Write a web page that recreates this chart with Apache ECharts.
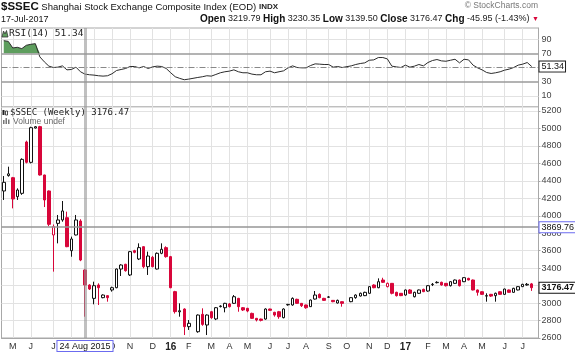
<!DOCTYPE html>
<html>
<head>
<meta charset="utf-8">
<script src="https://cdn.jsdelivr.net/npm/echarts@6/dist/echarts.min.js"></script>
<style>
  html, body { margin: 0; padding: 0; background: #fff; }
  #chart { width: 575px; height: 354px; }
</style>
</head>
<body>
<div id="chart"></div>
<script>
// weekly bars, one per Monday
const firstWeek = '2015-04-20';
const weekCount = 119;
const monthLetters = ['J', 'F', 'M', 'A', 'M', 'J', 'J', 'A', 'S', 'O', 'N', 'D'];

// [open, close, low, high]; null = exchange closed that week
const candles2015 = [
  [4284, 4383, 4181, 4455], [4460, 4480, 4448, 4562], [4436, 4192, 4085, 4445], [4219, 4295, 4181, 4314],
  [4257, 4646, 4240, 4658], [4845, 4612, 4600, 4860], [4612, 5009, 4600, 5020], [5005, 5020, 5000, 5028],
  [5021, 4467, 4460, 5030], [4467, 4181, 4100, 4470], [4284, 3902, 3880, 4290], [3780, 3875, 3360, 3900],
  [3913, 3952, 3684, 4009], [3952, 4055, 3932, 4169], [3978, 3646, 3640, 4047], [3600, 3734, 3531, 3761],
  [3780, 3952, 3775, 4009], [3940, 3493, 3480, 3960], [3379, 3207, 2844, 3390], [3207, 3161, 3150, 3215],
  [3054, 3199, 2986, 3245], [3207, 3176, 2978, 3226], [3062, 3092, 3055, 3100], [3085, 3062, 3016, 3090],
  [3150, 3176, 3131, 3188], [3176, 3390, 3170, 3395], [3390, 3436, 3310, 3445], [3444, 3371, 3360, 3450],
  [3322, 3589, 3310, 3597], [3600, 3581, 3570, 3610], [3505, 3635, 3493, 3684], [3646, 3417, 3398, 3650],
  [3417, 3539, 3322, 3589], [3524, 3417, 3410, 3540], [3390, 3570, 3385, 3580], [3570, 3616, 3560, 3684],
  [3635, 3532, 3520, 3650]
];
const candles2016 = [
  [3532, 3176, 3170, 3540], [3131, 2902, 2880, 3140], [2900, 2912, 2844, 2997], [2932, 2730, 2634, 2940],
  [2730, 2768, 2692, 2806], null, [2672, 2863, 2660, 2870], [2871, 2756, 2740, 2940],
  [2749, 2863, 2634, 2870], [2901, 2833, 2820, 2910], [2818, 2947, 2805, 2955], [2960, 2966, 2950, 2975],
  [2947, 2997, 2894, 3003], [2990, 2959, 2950, 3000], [2997, 3073, 2990, 3092], [3054, 2959, 2901, 3060],
  [2947, 2921, 2909, 2955], [2940, 2909, 2895, 2945], [2882, 2825, 2820, 2890], [2825, 2806, 2790, 2830],
  [2817, 2802, 2790, 2822], [2817, 2932, 2810, 2940], [2932, 2917, 2910, 2936], [2894, 2863, 2845, 2900],
  [2901, 2844, 2820, 2910], [2833, 2932, 2825, 2940], [2980, 2985, 2970, 2990], [2978, 3054, 2970, 3065],
  [3043, 2997, 2990, 3050], [2997, 2970, 2955, 3000], [2978, 2947, 2935, 2982], [2959, 3035, 2955, 3040],
  [3046, 3092, 3040, 3138], [3100, 3062, 3055, 3110], [3054, 3031, 3025, 3060], [3067, 3070, 3060, 3080],
  [3031, 3016, 3010, 3035], [3001, 3031, 2995, 3040], [3016, 2997, 2959, 3020], null,
  [3016, 3062, 3010, 3065], [3062, 3092, 3050, 3100], [3081, 3112, 3075, 3120], [3085, 3123, 3080, 3130],
  [3112, 3188, 3105, 3195], [3207, 3176, 3170, 3215], [3176, 3245, 3170, 3283], [3264, 3238, 3230, 3290],
  [3188, 3226, 3180, 3235], [3226, 3112, 3100, 3230], [3123, 3085, 3075, 3130], [3112, 3085, 3080, 3115]
];
const candles2017 = [
  [3092, 3150, 3085, 3155], [3150, 3112, 3105, 3160], [3073, 3123, 3065, 3130], [3112, 3150, 3105, 3155],
  [3157, 3131, 3125, 3165], [3138, 3199, 3130, 3205], [3211, 3215, 3195, 3230], [3234, 3238, 3225, 3250],
  [3238, 3207, 3200, 3245], [3226, 3199, 3190, 3230], [3199, 3245, 3190, 3250], [3226, 3264, 3220, 3270],
  [3264, 3199, 3190, 3270], [3245, 3291, 3240, 3295], [3283, 3264, 3260, 3290], [3264, 3150, 3145, 3270],
  [3150, 3123, 3085, 3155], [3130, 3100, 3095, 3135], [3080, 3085, 3016, 3112], [3100, 3080, 3070, 3105],
  [3085, 3112, 3016, 3120], [3130, 3100, 3095, 3135], [3100, 3161, 3095, 3165], [3150, 3123, 3118, 3155],
  [3123, 3169, 3118, 3175], [3150, 3188, 3145, 3192], [3188, 3215, 3185, 3220], [3207, 3215, 3200, 3230],
  [3219.79, 3176.47, 3139.50, 3230.35]
];
// up weeks that still closed below the prior week (drawn hollow red)
const hollowRedWeeks = ['2015-07-06', '2016-12-05'];

const rsi14 = [
  87.7, 86.7, 77.4, 78.4, 76.5, 81.2, 82.6, 83.5, 64.9, 57.9, 51.9, 50.0, 50.5, 52.3, 46.7, 47.2,
  50.5, 44.0, 40.7, 39.8, 39.3, 38.4, 37.9, 38.4, 41.2, 45.8, 47.2, 48.6, 51.4, 51.4, 49.5, 51.4,
  48.6, 50.9, 51.9, 51.4, 48.6, 42.6, 37.0, 34.7, 32.8, 33.7, null, 36.0, 37.0, 38.4, 37.9, 40.2,
  42.6, 44.0, 44.9, 46.7, 44.0, 42.6, 42.6, 40.7, 39.8, 39.8, 44.0, 44.9, 42.6, 44.0, 45.3, 49.5,
  52.3, 50.0, 49.5, 49.5, 52.8, 55.1, 54.7, 54.2, 54.2, 50.5, 51.4, 50.0, null, 52.3, 54.2, 55.6,
  56.5, 60.2, 60.7, 64.0, 64.0, 62.1, 51.9, 50.9, 50.0, 53.3, 50.5, 51.9, 54.2, 52.3, 57.0, 59.8,
  61.2, 59.3, 58.8, 60.2, 61.6, 56.5, 61.6, 60.7, 53.3, 49.5, 46.7, 43.0, 41.6, 42.6, 44.0, 46.3,
  47.7, 50.0, 53.3, 54.7, 57.0, 51.34
];
const rsiLevels = [10, 30, 50, 70, 90];
const rsiOverbought = 70;

const markedWeek = '2015-08-24';
const markedPrice = 3869.76;
const lastOpen = 3219.79, lastHigh = 3230.35, lastLow = 3139.50, lastClose = 3176.47;
const change = -45.95, changePct = -1.43;
const lastRsi = 51.34;

const red = '#d8063a';
const green = '#5e9e5e';
const gridColor = '#e2e2e2';
const monoFont = 'DejaVu Sans Mono';

const weeks = [];
{
  const d = new Date(firstWeek + 'T00:00:00Z');
  for (let i = 0; i < weekCount; i++) {
    weeks.push(d.toISOString().slice(0, 10));
    d.setUTCDate(d.getUTCDate() + 7);
  }
}
const isMonthStart = (idx, w) => Number(w.slice(8)) <= 7;

const candles = candles2015.concat(candles2016, candles2017);
const candleData = weeks.map((w, i) => {
  const c = candles[i];
  if (!c) return ['-', '-', '-', '-'];
  if (hollowRedWeeks.includes(w)) return { value: c, itemStyle: { color: '#fff', borderColor: red } };
  return c;
});
const rsiData = weeks.map((w, i) => (rsi14[i] == null ? '-' : rsi14[i]));
// shading only where RSI is above the overbought line
const rsiShade = rsiData.map(v => (v === '-' ? '-' : Math.max(v, rsiOverbought)));

const monthNames = ['Jan', 'Feb', 'Mar', 'Apr', 'May', 'Jun', 'Jul', 'Aug', 'Sep', 'Oct', 'Nov', 'Dec'];
const dayLabel = w => Number(w.slice(8)) + ' ' + monthNames[Number(w.slice(5, 7)) - 1] + ' ' + w.slice(0, 4);
const headerDate = '17-Jul-2017';

const valueBox = (border, bold) => ({
  show: true, position: 'end', distance: 1, color: '#111', fontSize: 9,
  fontWeight: bold ? 'bold' : 'normal', fontFamily: 'Liberation Sans',
  backgroundColor: '#fff', borderColor: border, borderWidth: 1, padding: [1, 1, 0, 2]
});
const hiddenLine = { color: 'rgba(0,0,0,0)', width: 1 };

const xAxisBase = {
  type: 'category', data: weeks, boundaryGap: true,
  axisTick: { show: false },
  splitLine: { show: true, interval: isMonthStart, alignWithLabel: true, lineStyle: { color: gridColor } }
};

const option = {
  animation: false,
  textStyle: { fontFamily: 'Liberation Sans' },
  grid: [
    { left: 1.5, right: 36.5, top: 28, height: 79, show: true, borderColor: '#a8a8a8', borderWidth: 1 },
    { left: 1.5, right: 36.5, top: 107, height: 231, show: true, borderColor: '#a8a8a8', borderWidth: 1 }
  ],
  xAxis: [
    Object.assign({}, xAxisBase, { gridIndex: 0, axisLine: { show: false }, axisLabel: { show: false } }),
    Object.assign({}, xAxisBase, {
      gridIndex: 1,
      axisLine: { show: true, lineStyle: { color: '#a8a8a8' } },
      axisLabel: {
        interval: isMonthStart, fontSize: 9, color: '#333', margin: 4,
        formatter: w => {
          const m = Number(w.slice(5, 7));
          return m === 1 ? '{y|' + w.slice(2, 4) + '}' : monthLetters[m - 1];
        },
        rich: { y: { fontWeight: 'bold', fontSize: 10, color: '#222' } }
      }
    })
  ],
  yAxis: [
    {
      type: 'value', gridIndex: 0, position: 'right', min: -5.5, max: 105.5,
      axisLine: { show: true, lineStyle: { color: '#a8a8a8' } },
      axisTick: { show: false }, axisLabel: { show: false }, splitLine: { show: false }
    },
    {
      type: 'value', gridIndex: 1, position: 'right', min: 2600, max: 5245.8, interval: 200,
      axisLine: { show: true, lineStyle: { color: '#a8a8a8' } },
      axisTick: { show: true, length: 2, lineStyle: { color: '#a8a8a8' } },
      axisLabel: { fontSize: 9, color: '#444', margin: 3, showMaxLabel: false, formatter: v => String(v) },
      splitLine: { lineStyle: { color: gridColor } }
    }
  ],
  series: [
    {
      name: 'RSI', type: 'line', xAxisIndex: 0, yAxisIndex: 0, data: rsiData,
      symbol: 'none', connectNulls: true, z: 4,
      lineStyle: { color: '#2b2b2b', width: 1 },
      markLine: {
        silent: true, symbol: ['none', 'none'],
        data: rsiLevels.map(v => ({
          yAxis: v,
          lineStyle: v === 50 ? { color: '#888', width: 1, type: [6, 2, 1, 2] }
            : (v === 30 || v === 70) ? { color: '#9a9a9a', width: 1.5, type: 'solid' }
            : { color: gridColor, width: 1, type: 'solid' },
          label: { show: true, position: 'end', distance: 3, formatter: String(v), fontSize: 9, color: '#444' }
        })).concat([
          { xAxis: markedWeek, lineStyle: { color: 'rgba(150,150,150,0.6)', width: 3, type: 'solid' }, label: { show: false } },
          { yAxis: lastRsi, lineStyle: hiddenLine, label: Object.assign(valueBox('#222', false), { formatter: lastRsi.toFixed(2) }) }
        ])
      }
    },
    {
      name: 'RSI shade', type: 'line', xAxisIndex: 0, yAxisIndex: 0, data: rsiShade,
      symbol: 'none', connectNulls: true, z: 3, silent: true,
      lineStyle: { width: 0 },
      areaStyle: { origin: rsiOverbought, color: green, opacity: 1 }
    },
    {
      name: '$SSEC', type: 'candlestick', xAxisIndex: 1, yAxisIndex: 1, data: candleData,
      barWidth: 3,
      itemStyle: { color: '#fff', color0: red, borderColor: '#111', borderColor0: red, borderWidth: 1 },
      markLine: {
        silent: true, symbol: ['none', 'none'],
        data: [
          {
            xAxis: markedWeek,
            lineStyle: { color: 'rgba(150,150,150,0.6)', width: 3, type: 'solid' },
            label: Object.assign(valueBox('#6b6bf0', false), { position: 'start', distance: 3, padding: [1, 2, 0, 2], formatter: dayLabel(markedWeek) })
          },
          {
            yAxis: markedPrice,
            lineStyle: { color: 'rgba(150,150,150,0.75)', width: 2, type: 'solid' },
            label: Object.assign(valueBox('#6b6bf0', false), { formatter: markedPrice.toFixed(2) })
          },
          {
            yAxis: lastClose,
            lineStyle: hiddenLine,
            label: Object.assign(valueBox('#111', true), { formatter: lastClose.toFixed(2) })
          }
        ]
      }
    }
  ],
  graphic: [
    {
      type: 'text', left: 1, top: 1,
      style: {
        text: '{t|$SSEC} Shanghai Stock Exchange Composite Index (EOD) {x|INDX}',
        font: '9.5px "Liberation Sans"', fill: '#111',
        rich: {
          t: { fontSize: 11.5, fontWeight: 'bold', fontFamily: 'Liberation Sans', fill: '#111' },
          x: { fontSize: 8, fontWeight: 'bold', fontFamily: 'Liberation Sans', fill: '#222' }
        }
      }
    },
    { type: 'text', right: 37, top: 1, style: { text: '\u00a9 StockCharts.com', font: '8.5px "Liberation Sans"', fill: '#777' } },
    { type: 'text', left: 1, top: 15, style: { text: headerDate, font: '9px "Liberation Sans"', fill: '#111' } },
    {
      type: 'text', right: 36, top: 14,
      style: {
        text: '{b|Open} ' + lastOpen.toFixed(2) + ' {b|High} ' + lastHigh.toFixed(2) + ' {b|Low} ' + lastLow.toFixed(2) +
          ' {b|Close} ' + lastClose.toFixed(2) + ' {b|Chg} ' + change.toFixed(2) + ' (' + changePct.toFixed(2) + '%) {r|\u25bc}',
        font: '9px "Liberation Sans"', fill: '#222',
        rich: {
          b: { fontWeight: 'bold', fontSize: 10, fontFamily: 'Liberation Sans', fill: '#111' },
          r: { fontSize: 7, fill: red }
        }
      }
    },
    // panel legends with their little icons
    {
      type: 'polygon', z: 10, silent: true,
      shape: { points: [[2, 37], [3.5, 31], [5, 34], [6.5, 30.5], [8, 37]] },
      style: { fill: green, stroke: '#333', lineWidth: 0.8 }
    },
    { type: 'text', left: 9, top: 29, z: 10, style: { text: 'RSI(14) ' + lastRsi.toFixed(2), font: '9.5px "' + monoFont + '"', fill: '#222' } },
    { type: 'rect', z: 10, silent: true, shape: { x: 2.5, y: 110, width: 2, height: 5 }, style: { fill: '#222' } },
    { type: 'rect', z: 10, silent: true, shape: { x: 5.5, y: 111, width: 2, height: 4 }, style: { fill: '#fff', stroke: '#222', lineWidth: 0.8 } },
    { type: 'text', left: 10, top: 108, z: 10, style: { text: '$SSEC (Weekly) ' + lastClose.toFixed(2), font: '9px "' + monoFont + '"', fill: '#222' } },
    { type: 'rect', z: 10, silent: true, shape: { x: 3, y: 120, width: 1.5, height: 4 }, style: { fill: '#777' } },
    { type: 'rect', z: 10, silent: true, shape: { x: 5.5, y: 118, width: 1.5, height: 6 }, style: { fill: '#777' } },
    { type: 'rect', z: 10, silent: true, shape: { x: 8, y: 119.5, width: 1.5, height: 4.5 }, style: { fill: '#777' } },
    { type: 'text', left: 13, top: 117, z: 10, style: { text: 'Volume undef', font: '8.5px "Liberation Sans"', fill: '#666' } }
  ]
};

const myChart = echarts.init(document.getElementById('chart'));
option && myChart.setOption(option);
</script>
</body>
</html>
